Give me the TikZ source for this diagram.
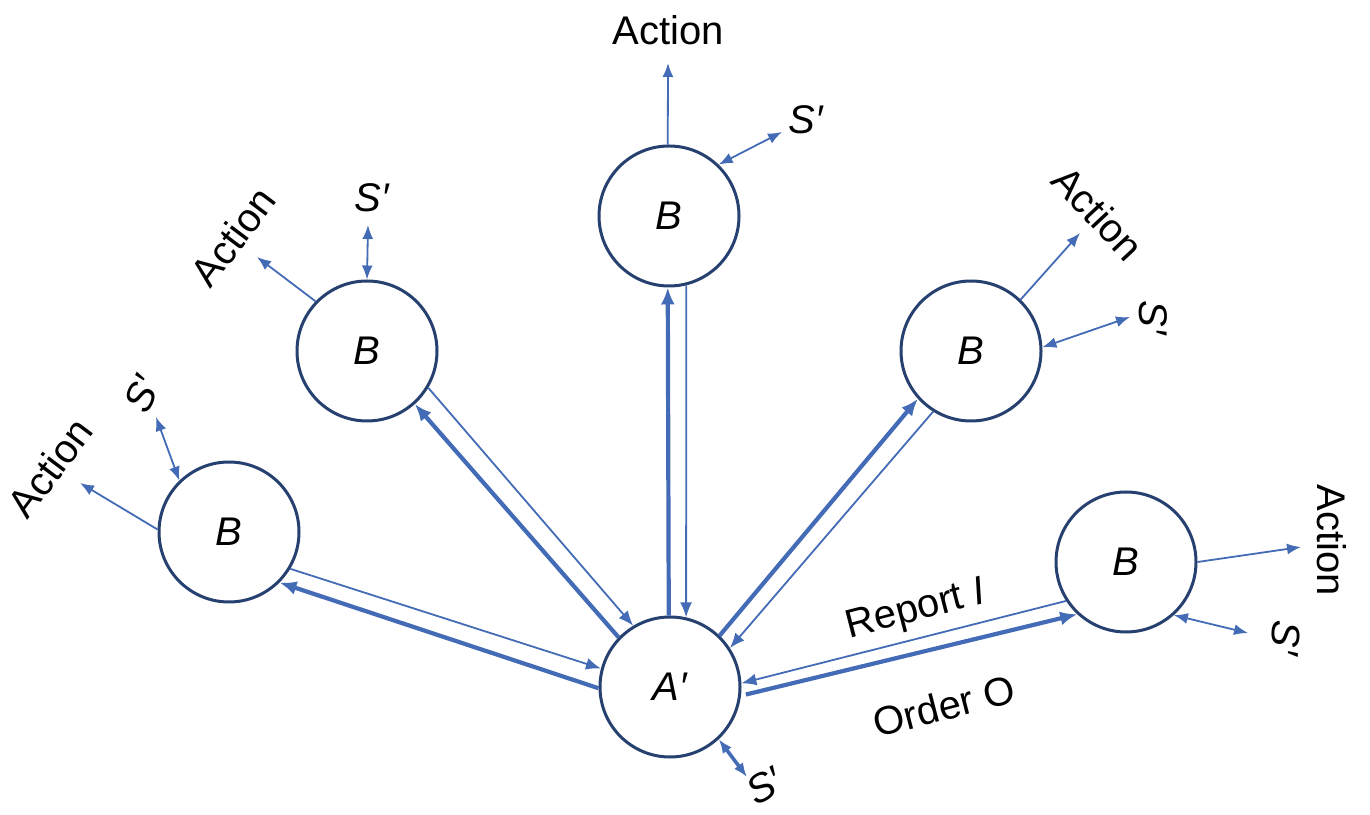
\documentclass[tikz,border=0pt]{standalone}
\usepackage{fontspec}
\setmainfont{Liberation Sans}
\usetikzlibrary{arrows.meta}
\definecolor{ringblue}{RGB}{38,64,112}
\definecolor{linkblue}{RGB}{68,108,182}

\begin{document}
\begin{tikzpicture}[x=1pt,y=1pt,
  agent/.style={circle, draw=ringblue, fill=white, line width=3pt, minimum size=140pt,
                inner sep=0pt, font=\fontsize{40}{48}\selectfont\itshape},
  lbl/.style={font=\fontsize{40}{48}\selectfont, inner sep=0pt},
  ilbl/.style={font=\fontsize{40}{48}\selectfont\itshape, inner sep=0pt},
  order/.style={draw=linkblue, line width=4.2pt, -{Latex[length=17pt,width=14pt]}},
  report/.style={draw=linkblue, line width=1.8pt, -{Latex[length=15pt,width=12pt]}},
  act/.style={draw=linkblue, line width=1.8pt, -{Latex[length=14pt,width=11pt]}},
  sense/.style={draw=linkblue, line width=1.8pt,
                {Latex[length=14pt,width=11pt]}-{Latex[length=14pt,width=11pt]}},
]
\useasboundingbox (0,0) rectangle (1370,814);

% agents
\node[agent] (A)   at (670,127) {A′};
\node[agent] (Bt)  at (669,598) {B};
\node[agent] (Blu) at (367,463) {B};
\node[agent] (Bll) at (229,282) {B};
\node[agent] (Bru) at (971,463) {B};
\node[agent] (Brl) at (1126,252) {B};

% orders (thick, towards B) and reports (thin, towards A')
\draw[order]  (A.181) -- (Bll.315);
\draw[report] (Bll.329) -- (A.165);
\draw[order]  (A.136) -- (Blu.312);
\draw[report] (Blu.329) -- (A.121);
\draw[order]  (A.91) -- (Bt.269);
\draw[report] (Bt.284) -- (A.77);
\draw[order]  (A.46) -- (Bru.222);
\draw[report] (Bru.238) -- (A.33);
\draw[order, shorten <=5pt] (A.-7) -- (Brl.227);
\draw[report] (Brl.213) -- (A.3);

\node[lbl, rotate=14.5] (rep) at (916,203) {Report \textit{I}};
\node[lbl, rotate=14.5] (ord) at (944,108) {Order O};

% A' environment
\coordinate (aS) at (747,37);
\draw[sense, line width=3.6pt] (A.313) -- (aS);
\node[ilbl, rotate=30] (aSl) at (764,28) {S′};

% top B
\coordinate (tAct) at (668,751);
\draw[act] (Bt.91) -- (tAct);
\node[lbl] (tActl) at (668,784) {Action};
\coordinate (tS) at (782,682);
\draw[sense] (Bt.46) -- (tS);
\node[ilbl] (tSl) at (806,694) {S′};

% left upper B
\coordinate (luAct) at (257,557);
\draw[act] (Blu.136) -- (luAct);
\node[lbl, rotate=53] (luActl) at (233,577) {Action};
\coordinate (luS) at (368,589);
\draw[sense] (Blu.90) -- (luS);
\node[ilbl] (luSl) at (372,616) {S′};

% left lower B
\coordinate (llAct) at (80,331);
\draw[act] (Bll.178) -- (llAct);
\node[lbl, rotate=53] (llActl) at (50,346) {Action};
\coordinate (llS) at (156,397);
\draw[sense] (Bll.134) -- (llS);
\node[ilbl, rotate=65] (llSl) at (142,420) {S′};

% right upper B
\coordinate (ruAct) at (1080,581);
\draw[act] (Bru.46) -- (ruAct);
\node[lbl, rotate=-47] (ruActl) at (1098,601) {Action};
\coordinate (ruS) at (1130,497);
\draw[sense] (Bru.3) -- (ruS);
\node[ilbl, rotate=-90] (ruSl) at (1153,496) {S′};

% right lower B
\coordinate (rlAct) at (1301,267);
\draw[act] (Brl.0) -- (rlAct);
\node[lbl, rotate=-90] (rlActl) at (1332,274) {Action};
\coordinate (rlS) at (1248,181);
\draw[sense] (Brl.312) -- (rlS);
\node[ilbl, rotate=-95] (rlSl) at (1286,176) {S′};
\end{tikzpicture}
\end{document}
